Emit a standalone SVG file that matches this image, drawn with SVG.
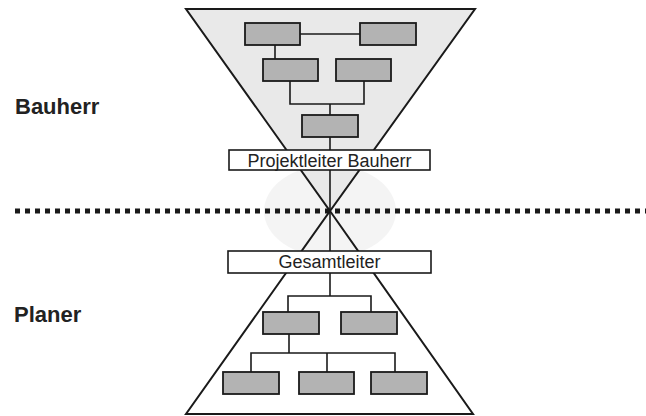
<svg xmlns="http://www.w3.org/2000/svg" width="646" height="416" viewBox="0 0 646 416">
<style>
.tri{stroke:#1a1a1a;stroke-width:2;stroke-linejoin:miter}
.box{fill:#b3b3b3;stroke:#1a1a1a;stroke-width:1.8}
.wbox{fill:#ffffff;stroke:#1a1a1a;stroke-width:1.6}
.ln{fill:none;stroke:#1a1a1a;stroke-width:1.6}
.lbl{font-family:"Liberation Sans",Arial,sans-serif;font-size:18px;fill:#222}
.side{font-family:"Liberation Sans",Arial,sans-serif;font-size:22px;font-weight:bold;fill:#222}
</style>
<rect width="646" height="416" fill="#ffffff"/>
<ellipse cx="330" cy="211" rx="66" ry="46" fill="#f4f4f4"/>
<g id="top-triangle">
<polygon class="tri" points="186,9 475,9 330,211" fill="#e9e9e9"/>
</g>
<g id="bottom-triangle">
<polygon class="tri" points="330,211 473,414 186,414" fill="none"/>
</g>
<line id="divider" x1="15" y1="211" x2="646" y2="211" stroke="#1a1a1a" stroke-width="5" stroke-dasharray="5,5"/>
<g id="connectors" class="ln">
<line x1="300" y1="34" x2="360" y2="34"/>
<line x1="275" y1="45" x2="275" y2="59"/>
<polyline points="290,81 290,104 364,104 364,81"/>
<line x1="330" y1="104" x2="330" y2="115"/>
<line x1="330" y1="137" x2="330" y2="150"/>
<line x1="330" y1="170" x2="330" y2="251"/>
<line x1="330" y1="273" x2="330" y2="296"/>
<polyline points="288,312 288,296 371,296 371,312"/>
<line x1="289" y1="334" x2="289" y2="353"/>
<polyline points="251,372 251,353 395,353 395,372"/>
<line x1="327" y1="353" x2="327" y2="372"/>
</g>
<g id="b1"><rect class="box" x="245" y="23" width="55" height="22"/></g>
<g id="b2"><rect class="box" x="360" y="23" width="56" height="22"/></g>
<g id="b3"><rect class="box" x="263" y="59" width="55" height="22"/></g>
<g id="b4"><rect class="box" x="336" y="59" width="55" height="22"/></g>
<g id="b5"><rect class="box" x="302" y="115" width="56" height="22"/></g>
<g id="projektleiter"><rect class="wbox" x="229" y="150" width="201" height="20"/>
<text class="lbl" x="329.5" y="167" text-anchor="middle">Projektleiter Bauherr</text></g>
<g id="gesamtleiter"><rect class="wbox" x="228" y="251" width="203" height="22"/>
<text class="lbl" x="329.5" y="268" text-anchor="middle">Gesamtleiter</text></g>
<g id="p1"><rect class="box" x="263" y="312" width="56" height="22"/></g>
<g id="p2"><rect class="box" x="341" y="312" width="56" height="22"/></g>
<g id="p3"><rect class="box" x="223" y="372" width="56" height="22"/></g>
<g id="p4"><rect class="box" x="299" y="372" width="55" height="22"/></g>
<g id="p5"><rect class="box" x="371" y="372" width="56" height="22"/></g>
<g id="label-bauherr"><text class="side" x="15" y="114">Bauherr</text></g>
<g id="label-planer"><text class="side" x="14" y="322">Planer</text></g>
</svg>
